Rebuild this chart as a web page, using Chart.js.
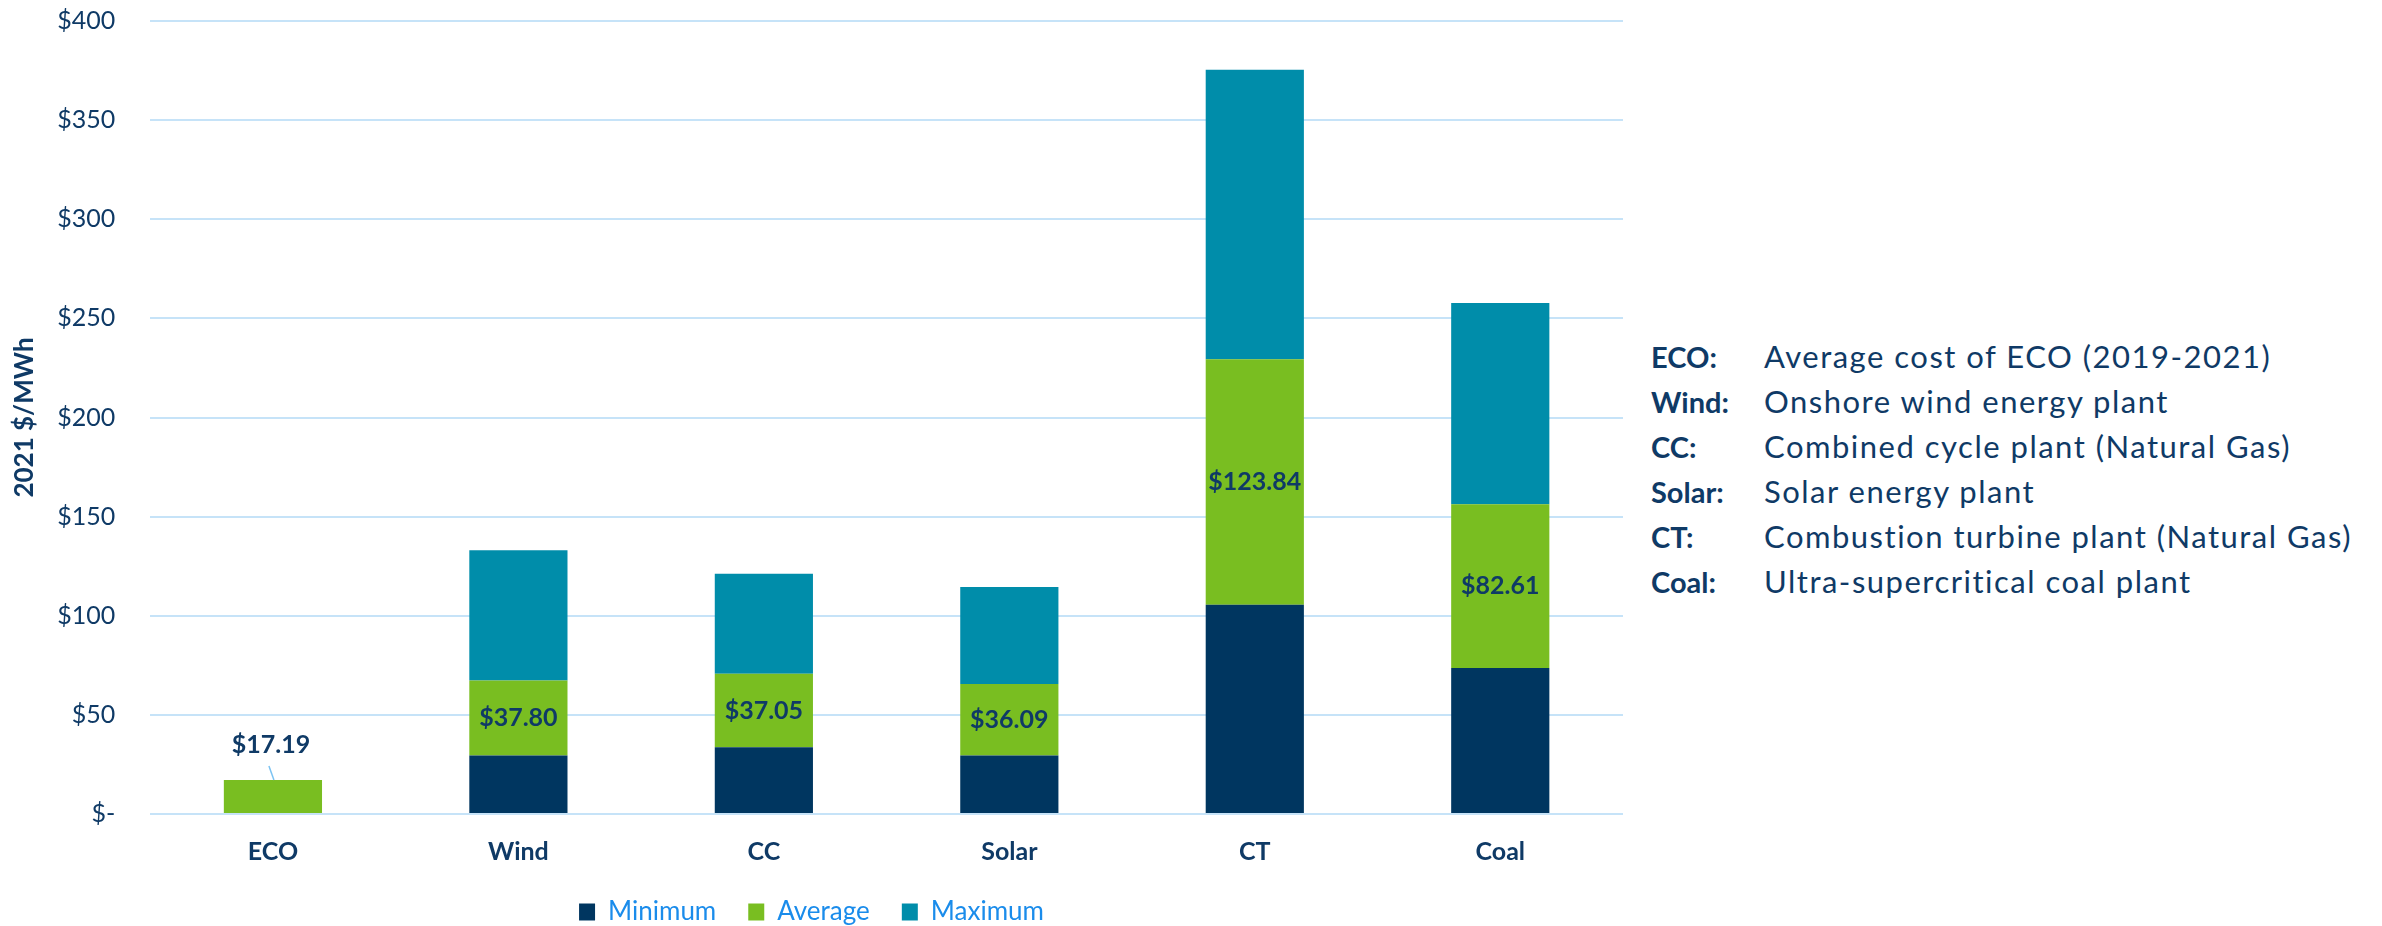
<!DOCTYPE html>
<html>
<head>
<meta charset="utf-8">
<script src="https://cdn.jsdelivr.net/npm/chart.js@4/dist/chart.umd.min.js"></script>
<style>
  html, body { margin: 0; padding: 0; background: #fff; overflow: hidden; width: 2382px; height: 926px; }
  #wrap { position: absolute; left: 0; top: 0; width: 1630px; height: 935px; }
  #notes { position: absolute; left: 1651px; top: 334px; font-family: Lato, sans-serif; font-size: 31px; line-height: 45px; color: #0F3A66; white-space: nowrap; }
  #notes .row { position: relative; height: 45px; }
  #notes .k { position: absolute; left: 0; font-weight: bold; font-size: 29px; }
  #notes .v { position: absolute; left: 113px; letter-spacing: 1.5px; }
</style>
</head>
<body>
<div id="wrap"><canvas id="c" width="1630" height="935"></canvas></div>
<div id="notes"></div>
<script>
const categories = ['ECO', 'Wind', 'CC', 'Solar', 'CT', 'Coal'];
const minimumValues = [null, 29.5, 33.7, 29.5, 105.6, 73.6];
const averageValues = [17.19, 37.80, 37.05, 36.09, 123.84, 82.61];
const maximumValues = [null, 65.8, 50.4, 48.9, 146.0, 101.5];
const yTicks = [0, 50, 100, 150, 200, 250, 300, 350, 400];
const seriesNames = ['Minimum', 'Average', 'Maximum'];
const noteKeys = ['ECO:', 'Wind:', 'CC:', 'Solar:', 'CT:', 'Coal:'];
const noteTexts = [
  'Average cost of ECO (2019-2021)',
  'Onshore wind energy plant',
  'Combined cycle plant (Natural Gas)',
  'Solar energy plant',
  'Combustion turbine plant (Natural Gas)',
  'Ultra-supercritical coal plant'
];

const NAVY = '#0F3A66';
const notes = document.getElementById('notes');
noteKeys.forEach((k, i) => {
  const row = document.createElement('div');
  row.className = 'row';
  const a = document.createElement('span'); a.className = 'k'; a.textContent = k;
  const b = document.createElement('span'); b.className = 'v'; b.textContent = noteTexts[i];
  row.appendChild(a); row.appendChild(b);
  notes.appendChild(row);
});

const labelPlugin = {
  id: 'avgLabels',
  afterDatasetsDraw(chart) {
    const ctx = chart.ctx;
    const meta = chart.getDatasetMeta(1);
    ctx.save();
    ctx.font = 'bold 25px Lato';
    ctx.fillStyle = NAVY;
    ctx.textAlign = 'center';
    ctx.textBaseline = 'middle';
    meta.data.forEach((bar, i) => {
      const v = averageValues[i];
      if (v == null) return;
      const text = '$' + v.toFixed(2);
      const h = bar.base - bar.y;
      if (h > 45) {
        ctx.fillText(text, bar.x, (bar.y + bar.base) / 2);
      } else {
        ctx.fillText(text, bar.x - 2, bar.y - 35);
        ctx.strokeStyle = '#7CC3F2';
        ctx.lineWidth = 1.5;
        ctx.beginPath();
        ctx.moveTo(bar.x - 4, bar.y - 14);
        ctx.lineTo(bar.x + 1, bar.y);
        ctx.stroke();
      }
    });
    ctx.restore();
  }
};

new Chart(document.getElementById('c'), {
  type: 'bar',
  data: {
    labels: categories,
    datasets: [
      { label: seriesNames[0], data: minimumValues, backgroundColor: '#003660' },
      { label: seriesNames[1], data: averageValues, backgroundColor: '#79BE21' },
      { label: seriesNames[2], data: maximumValues, backgroundColor: '#008DAA' }
    ]
  },
  options: {
    responsive: false,
    animation: false,
    devicePixelRatio: 1,
    layout: { padding: { top: 21, right: 7, left: 0, bottom: 0 } },
    datasets: { bar: { barPercentage: 0.4, categoryPercentage: 1.0 } },
    plugins: {
      tooltip: { enabled: false },
      legend: {
        position: 'bottom',
        labels: {
          font: { family: 'Lato', size: 26 },
          color: '#1A8CEB',
          boxWidth: 16,
          boxHeight: 17,
          padding: 32
        }
      }
    },
    scales: {
      x: {
        stacked: true,
        grid: { display: true, drawOnChartArea: false, drawTicks: true, tickLength: 23, color: 'rgba(0,0,0,0)', tickColor: 'rgba(0,0,0,0)' },
        border: { display: false },
        ticks: { font: { family: 'Lato', size: 25, weight: 'bold' }, color: NAVY, padding: 0 }
      },
      y: {
        stacked: true,
        min: 0,
        max: 400,
        afterBuildTicks(axis) { axis.ticks = yTicks.map(v => ({ value: v })); },
        ticks: {
          font: { family: 'Lato', size: 25 },
          color: NAVY,
          padding: 0,
          callback: v => (v === 0 ? '$-' : '$' + v)
        },
        grid: { color: '#C6E3F8', lineWidth: 2, drawTicks: true, tickLength: 35, tickColor: 'rgba(0,0,0,0)' },
        border: { display: false },
        title: {
          display: true,
          text: '2021 $/MWh',
          font: { family: 'Lato', size: 26, weight: 'bold' },
          color: NAVY,
          padding: { top: 9, bottom: 17 }
        }
      }
    }
  },
  plugins: [labelPlugin]
});
</script>
</body>
</html>
